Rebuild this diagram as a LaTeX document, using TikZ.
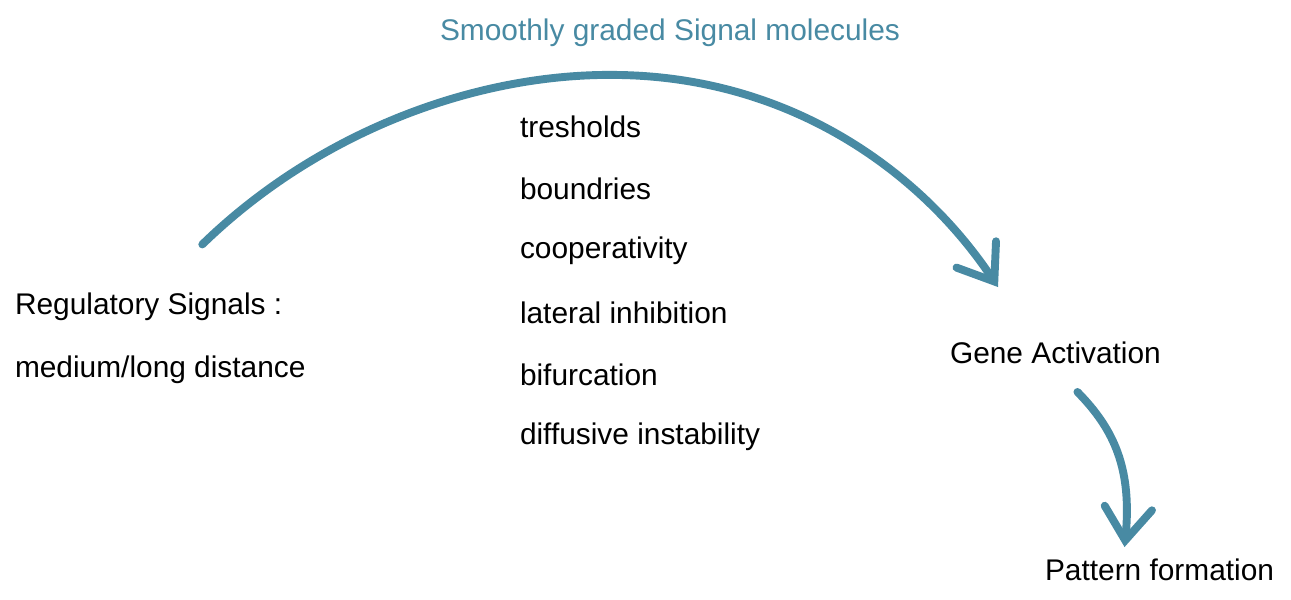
\documentclass[tikz,border=0pt]{standalone}
\usepackage{fontspec}
\setmainfont{Liberation Sans}
\usepackage{tikz}
\usetikzlibrary{arrows.meta, positioning, calc}
\definecolor{signalteal}{RGB}{72, 138, 163}

\tikzset{
  label/.style={font=\fontsize{17}{20}\selectfont, inner sep=0pt, outer sep=0pt},
  flow/.style={signalteal, line width=4.5pt, line cap=round,
    -{Straight Barb[length=6.5mm, width=9.5mm, line cap=round]}}
}

\begin{document}
\begin{tikzpicture}[x=0.02cm, y=-0.02cm]
  \useasboundingbox (0,0) rectangle (1291,599);

  % Title
  \node[label, signalteal] (title) at (670,33) {Smoothly graded Signal molecules};

  % Left and right labels
  \node[label, anchor=west, align=left] (reg) at (15,338)
    {Regulatory Signals :\\[16pt]medium/long distance};
  \node[label, anchor=west] (gene) at (950,353) {Gene Activation};
  \node[label, anchor=west] (pattern) at (1045,570) {Pattern formation};

  % Mechanisms
  \foreach \txt [count=\i] in {tresholds, boundries, cooperativity,
      lateral inhibition, bifurcation, diffusive instability} {
    \node[label, anchor=west] (mech\i) at (520,{127+62*(\i-1)}) {\txt};
  }

  % Main arc
  \coordinate (arcstart) at ($(reg.north)+(42,-48)$);
  \coordinate (arcend) at ($(gene.north west)+(48,-55)$);
  \draw[flow] (arcstart) .. controls (320,130) and (480,72) .. (620,75)
    .. controls (790,78) and (920,170) .. (arcend);

  % Second step
  \coordinate (stepstart) at ($(gene.south)+(22,28)$);
  \coordinate (stepend) at ($(pattern.north)+(-35,-12)$);
  \draw[flow] (stepstart) .. controls (1115,430) and (1132,470) .. (stepend);
\end{tikzpicture}
\end{document}
